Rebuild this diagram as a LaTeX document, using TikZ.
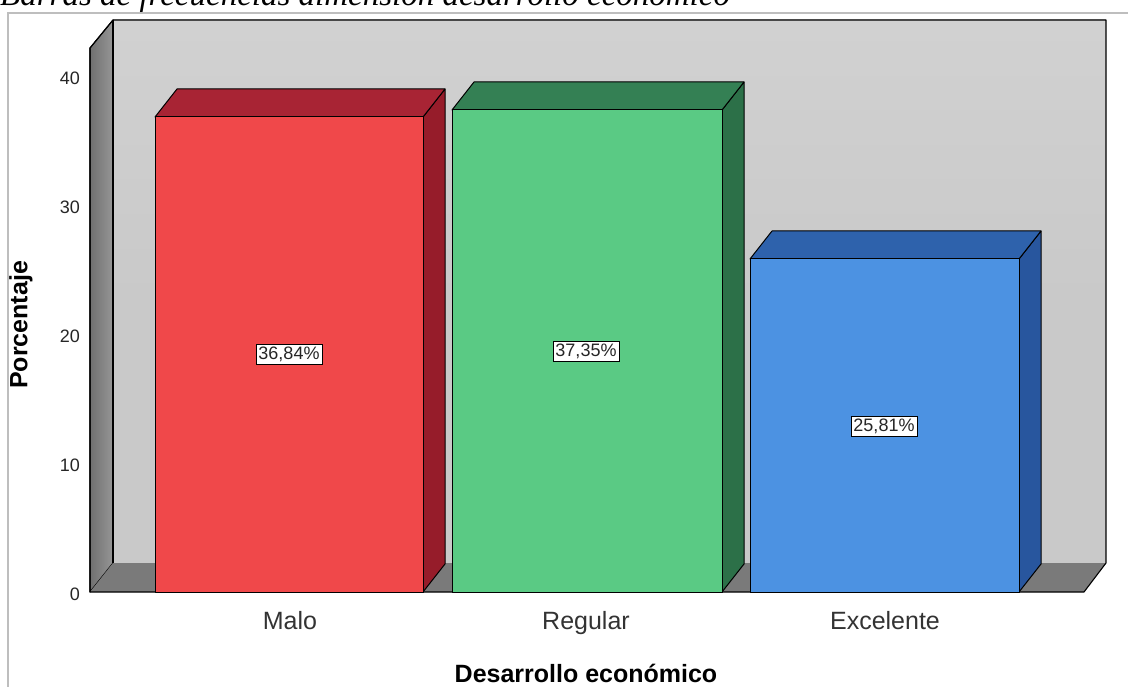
\documentclass[tikz,border=0pt]{standalone}
\usepackage{fontspec}
\setmainfont{Liberation Sans}
\newfontfamily\serifit{Liberation Serif}
\definecolor{wallback}{RGB}{201,201,201}
\definecolor{walldark}{RGB}{112,112,112}
\definecolor{walllight}{RGB}{150,150,150}
\definecolor{floorc}{RGB}{122,122,122}
\definecolor{redfront}{RGB}{240,72,74}
\definecolor{redtop}{RGB}{168,36,52}
\definecolor{redside}{RGB}{150,28,42}
\definecolor{greenfront}{RGB}{90,202,132}
\definecolor{greentop}{RGB}{52,128,84}
\definecolor{greenside}{RGB}{44,112,72}
\definecolor{bluefront}{RGB}{76,146,226}
\definecolor{bluetop}{RGB}{46,98,172}
\definecolor{blueside}{RGB}{40,86,158}
\definecolor{framec}{RGB}{190,190,190}
\begin{document}
\begin{tikzpicture}[x=1pt,y=-1pt,
  wall/.style={draw=black,line width=1.1pt,line join=round},
  barface/.style={draw=black,line width=1pt,line join=round},
  pct/.style={draw=black,fill=white,line width=0.8pt,inner sep=2.5pt,font=\fontsize{18}{20}\selectfont,text=black!85},
  ticklab/.style={anchor=east,inner sep=0pt,font=\fontsize{18}{20}\selectfont,text=black!85},
  catlab/.style={anchor=base,inner sep=0pt,font=\fontsize{25}{27}\selectfont,text=black!80},
  axtitle/.style={inner sep=0pt,font=\bfseries\fontsize{25}{28}\selectfont,text=black}]
\useasboundingbox (0,0) rectangle (1128,687);
\clip (0,0) rectangle (1128,687);
% cut-off caption
\node[anchor=base west,inner sep=0pt,font=\serifit\itshape\fontsize{33}{36}\selectfont] (caption) at (0,6) {Barras de frecuencias dimensión desarrollo económico};
% outer frame
\draw[framec,line width=1.5pt] (8,687) -- (8,13) -- (1128,13);
% walls
\coordinate (bwTL) at (113,20);
\coordinate (bwTR) at (1106,20);
\coordinate (bwBL) at (113,563);
\coordinate (bwBR) at (1106,563);
\coordinate (lwT) at (90,48);
\coordinate (fFL) at (90,592);
\coordinate (fFR) at (1084,592);
\fill[wallback] (bwTL) rectangle (bwBR);
\shade[top color=wallback!85!white,bottom color=wallback] (bwTL) rectangle (1106,300);
\shade[left color=walldark,right color=walllight,draw=black,line width=1.1pt,line join=round] (lwT) -- (bwTL) -- (bwBL) -- (fFL) -- cycle;
\fill[floorc] (fFL) -- (bwBL) -- (bwBR) -- (fFR) -- cycle;
\draw[wall] (lwT) -- (bwTL) -- (bwTR) -- (bwBR) -- (fFR) -- (fFL) -- cycle;
\draw[wall] (bwTL) -- (bwBL);
% ticks
\node[ticklab] (t0) at (80,594) {0};
\node[ticklab] (t10) at (80,465) {10};
\node[ticklab] (t20) at (80,336) {20};
\node[ticklab] (t30) at (80,207) {30};
\node[ticklab] (t40) at (80,78) {40};
% bars: front x1,x2, top y, depth (22,-28)
\foreach \xa/\xb/\yt/\cf/\ct/\cs/\nm in {155/423/117/redfront/redtop/redside/malo,452/722/110/greenfront/greentop/greenside/regular,750/1019/259/bluefront/bluetop/blueside/excel}{
  \filldraw[barface,fill=\cs] (\xb,\yt) -- (\xb+22,\yt-28) -- (\xb+22,564) -- (\xb,592) -- cycle;
  \filldraw[barface,fill=\ct] (\xa,\yt) -- (\xa+22,\yt-28) -- (\xb+22,\yt-28) -- (\xb,\yt) -- cycle;
  \filldraw[barface,fill=\cf] (\xa,\yt) rectangle (\xb,592);
}
% value labels
\node[pct] (vmalo) at (289,354) {36,84\%};
\node[pct] (vregular) at (586,351) {37,35\%};
\node[pct] (vexcel) at (884,426) {25,81\%};
% category labels
\node[catlab] (cmalo) at (290,629) {Malo};
\node[catlab] (cregular) at (586,629) {Regular};
\node[catlab] (cexcel) at (885,629) {Excelente};
% axis titles
\node[axtitle,anchor=base] (xtitle) at (586,682) {Desarrollo económico};
\node[axtitle,rotate=90] (ytitle) at (21,325) {Porcentaje};
\end{tikzpicture}
\end{document}
